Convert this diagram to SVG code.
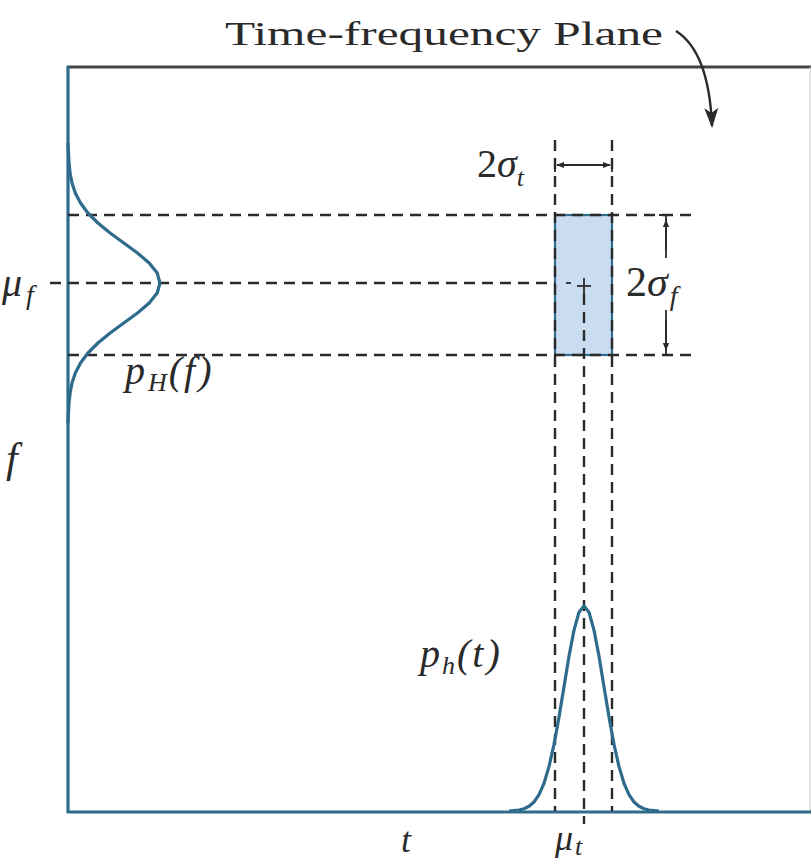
<svg xmlns="http://www.w3.org/2000/svg" width="811" height="866" viewBox="0 0 811 866">
<style>
.dash{stroke:#2a2a2a;stroke-width:2.4;stroke-dasharray:11 7;fill:none}
.curve{stroke:#2e6b8c;stroke-width:3.2;fill:none;stroke-linejoin:round}
.txt{fill:#2a2a2a}
.it{font-style:italic}
.thin{stroke:#2a2a2a;stroke-width:1.8;fill:none}
</style>
<defs>
<marker id="ah" viewBox="0 0 10 10" refX="9" refY="5" markerWidth="8" markerHeight="8" orient="auto-start-reverse" markerUnits="userSpaceOnUse">
<path d="M0,1 L10,5 L0,9 z" fill="#2a2a2a"/>
</marker>
<marker id="big" viewBox="0 0 10 10" refX="9" refY="5" markerWidth="20" markerHeight="20" orient="auto" markerUnits="userSpaceOnUse">
<path d="M0,1.5 L10,5 L0,8.5 L2.5,5 z" fill="#2a2a2a"/>
</marker>
</defs>
<rect width="811" height="866" fill="#fff"/>

<g id="title" font-family="'Liberation Serif', 'Times New Roman', serif">
<text class="txt" x="225" y="45" font-size="34" textLength="438" lengthAdjust="spacingAndGlyphs">Time-frequency Plane</text>
</g>

<g id="frame">
<line x1="67" y1="67" x2="811" y2="67" stroke="#444" stroke-width="3"/>
<line x1="810" y1="67" x2="810" y2="812" stroke="#d0d0d0" stroke-width="1"/>
<line x1="68" y1="66" x2="68" y2="813" stroke="#2e6b8c" stroke-width="3.2"/>
<line x1="67" y1="812" x2="811" y2="812" stroke="#2e6b8c" stroke-width="3.2"/>
</g>

<g id="box">
<rect x="555" y="215" width="57" height="140" fill="#c9dcf0" stroke="#2e6b8c" stroke-width="2.2"/>
</g>

<g id="connectors">
<line class="dash" x1="68" y1="215" x2="695" y2="215"/>
<line class="dash" x1="50" y1="283" x2="555" y2="283"/>
<line class="dash" x1="68" y1="355" x2="695" y2="355"/>
<line class="dash" x1="555" y1="140" x2="555" y2="811"/>
<line class="dash" x1="612" y1="140" x2="612" y2="811"/>
<line class="dash" x1="584" y1="294" x2="584" y2="824"/>
<line class="thin" x1="566" y1="283" x2="571" y2="283"/>
<line class="thin" x1="577" y1="286" x2="591" y2="286"/>
<line class="thin" x1="584" y1="278" x2="584" y2="294"/>
<line class="thin" x1="557" y1="165" x2="610" y2="165" marker-start="url(#ah)" marker-end="url(#ah)"/>
<line class="thin" x1="555" y1="163" x2="555" y2="172"/>
<line class="thin" x1="612" y1="163" x2="612" y2="172"/>
<polyline class="thin" points="659,215 666,215 666,258"/>
<line class="thin" x1="666" y1="250" x2="666" y2="220" marker-end="url(#ah)"/>
<polyline class="thin" points="666,310 666,355 673,355"/>
<line class="thin" x1="666" y1="320" x2="666" y2="350" marker-end="url(#ah)"/>
<path d="M676,31 Q709,52 712,126" stroke="#2a2a2a" stroke-width="2.4" fill="none" marker-end="url(#big)"/>
</g>

<g id="pH">
<polyline class="curve" points="68,143 68.5,153 69,163 70.1,173 72,183 75.3,193 80.5,203 87.9,213 97.9,223 110.1,233 123.8,243 137.5,253 149.2,263 157.2,273 160,283 157.2,293 149.2,303 137.5,313 123.8,323 110.1,333 97.9,343 87.9,353 80.5,363 75.3,373 72,383 70.1,393 69,403 68.5,413 68,423"/>
</g>

<g id="ph">
<polyline class="curve" points="509,811 519,810 524,808.7 529,806.3 534,802 539,794.7 544,783.3 549,766.6 554,744.4 559,717.1 564,686.7 569,656.2 574,630.1 579,612.3 584,606 589,612.3 594,630.1 599,656.2 604,686.7 609,717.1 614,744.4 619,766.6 624,783.3 629,794.7 634,802 639,806.3 644,808.7 649,810 659,811"/>
</g>

<g id="labels" font-family="'Liberation Serif', 'Times New Roman', serif">
<text class="txt" x="477" y="177" font-size="40">2<tspan class="it">σ</tspan><tspan class="it" font-size="26" dy="9">t</tspan></text>
<text class="txt" x="626" y="296" font-size="42">2<tspan class="it">σ</tspan><tspan class="it" font-size="28" dy="9" dx="2">f</tspan></text>
<text class="txt it" x="2" y="296" font-size="40">μ<tspan font-size="28" dy="8" dx="4">f</tspan></text>
<text class="txt it" x="125" y="384" font-size="40">p<tspan font-size="26" dy="7" dx="3">H</tspan><tspan dy="-7" dx="2">(</tspan><tspan dx="2">f</tspan><tspan dx="3">)</tspan></text>
<text class="txt it" x="6" y="472" font-size="42">f</text>
<text class="txt it" x="420" y="667" font-size="40">p<tspan font-size="26" dy="7" dx="2">h</tspan><tspan dy="-7" dx="2">(</tspan><tspan dx="2">t</tspan><tspan dx="3">)</tspan></text>
<text class="txt it" x="401" y="852" font-size="36">t</text>
<text class="txt it" x="555" y="850" font-size="36">μ<tspan font-size="26" dy="5" dx="2">t</tspan></text>
</g>
</svg>
